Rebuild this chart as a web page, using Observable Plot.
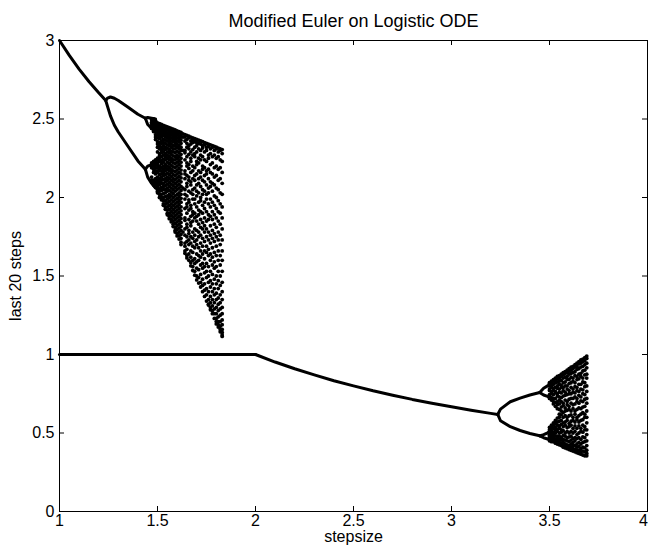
<!DOCTYPE html>
<html>
<head>
<meta charset="utf-8">
<script src="https://cdn.jsdelivr.net/npm/d3@7"></script>
<script src="https://cdn.jsdelivr.net/npm/@observablehq/plot@0.6"></script>
<style>
  html, body { margin: 0; padding: 0; background: #fff; }
  #chart svg { display: block; }
</style>
</head>
<body>
<div id="chart"></div>
<script>
// ---- tick labels ----
const xTicks = [1, 1.5, 2, 2.5, 3, 3.5, 4];
const yTicks = [0, 0.5, 1, 1.5, 2, 2.5, 3];

// ---- stable branches ----
const upperFixedH = [1, 1.05, 1.1, 1.15, 1.2, 1.236];
const upperFixedY = [3, 2.905, 2.818, 2.739, 2.667, 2.618];
const upperP2H    = [1.236, 1.245, 1.26, 1.28, 1.3, 1.35, 1.4, 1.438];
const upperP2HiY  = [2.618, 2.633, 2.64, 2.632, 2.618, 2.575, 2.530, 2.505];
const upperP2LoY  = [2.618, 2.58, 2.52, 2.46, 2.417, 2.325, 2.233, 2.18];
const upperP4H    = [1.438, 1.45, 1.47, 1.49];
const upperP4aY   = [2.505, 2.51, 2.505, 2.50];
const upperP4bY   = [2.505, 2.465, 2.44, 2.42];
const upperP4cY   = [2.18, 2.20, 2.21, 2.215];
const upperP4dY   = [2.18, 2.13, 2.09, 2.06];

const lowerFlatH  = [1, 2];
const lowerFlatY  = [1, 1];
const lowerCurveH = [2, 2.1, 2.2, 2.3, 2.4, 2.5, 2.6, 2.7, 2.8, 2.9, 3.0, 3.1, 3.2, 3.236];
const lowerCurveY = [1, 0.952, 0.909, 0.870, 0.833, 0.8, 0.769, 0.741, 0.714, 0.690, 0.667, 0.645, 0.625, 0.618];
const lowerP2H    = [3.236, 3.25, 3.3, 3.35, 3.4, 3.45];
const lowerP2HiY  = [0.618, 0.652, 0.699, 0.722, 0.742, 0.758];
const lowerP2LoY  = [0.618, 0.578, 0.540, 0.516, 0.497, 0.482];
const lowerP4H    = [3.45, 3.47, 3.49, 3.50];
const lowerP4aY   = [0.758, 0.785, 0.80, 0.81];
const lowerP4bY   = [0.758, 0.742, 0.733, 0.73];
const lowerP4cY   = [0.482, 0.49, 0.50, 0.51];
const lowerP4dY   = [0.482, 0.47, 0.462, 0.455];

// ---- chaotic region, upper (stepsize columns, last-step values) ----
const upperChaosH = [1.47,1.48,1.49,1.50,1.51,1.52,1.53,1.54,1.55,1.56,1.57,1.58,1.59,1.60,1.61,1.62,1.63,
  1.64,1.65,1.66,1.67,1.68,1.69,1.70,1.71,1.72,1.73,1.74,1.75,1.76,1.77,1.78,1.79,1.80,1.81,1.82,1.83];
const upperChaosY = [
  [2.50,2.495,2.48,2.47,2.455,2.44,2.22,2.21,2.20,2.19,2.13,2.11,2.10],
  [2.50,2.49,2.475,2.46,2.445,2.43,2.42,2.23,2.215,2.20,2.18,2.16,2.11,2.09,2.08],
  [2.49,2.485,2.47,2.455,2.44,2.42,2.40,2.385,2.37,2.24,2.225,2.21,2.19,2.17,2.15,2.12,2.10,2.08,2.065],
  [2.475,2.47,2.46,2.45,2.43,2.42,2.40,2.38,2.355,2.34,2.32,2.29,2.25,2.24,2.22,2.21,2.19,2.17,2.16,2.13,2.11,2.09,2.07,2.05,2.04,2.03],
  [2.47,2.465,2.45,2.44,2.425,2.41,2.39,2.375,2.35,2.33,2.31,2.28,2.265,2.25,2.23,2.20,2.185,2.17,2.145,2.12,2.10,2.08,2.055,2.04,2.02,2.00],
  [2.465,2.455,2.445,2.43,2.415,2.40,2.385,2.36,2.345,2.32,2.30,2.285,2.26,2.235,2.215,2.19,2.17,2.15,2.13,2.11,2.09,2.065,2.045,2.02,2.00,1.985],
  [2.46,2.45,2.44,2.42,2.41,2.395,2.37,2.35,2.33,2.31,2.29,2.27,2.245,2.225,2.20,2.18,2.16,2.14,2.115,2.09,2.07,2.05,2.025,2.00,1.98,1.96,1.95],
  [2.455,2.45,2.435,2.42,2.40,2.385,2.365,2.345,2.32,2.305,2.28,2.26,2.24,2.21,2.19,2.17,2.145,2.12,2.10,2.075,2.05,2.03,2.005,1.98,1.96,1.94,1.925],
  [2.45,2.44,2.43,2.41,2.395,2.38,2.36,2.335,2.315,2.29,2.27,2.25,2.225,2.20,2.18,2.155,2.13,2.11,2.085,2.06,2.04,2.01,1.99,1.965,1.94,1.92,1.90,1.89],
  [2.445,2.435,2.42,2.405,2.39,2.37,2.35,2.33,2.305,2.285,2.26,2.24,2.215,2.19,2.17,2.145,2.12,2.095,2.07,2.045,2.02,2.00,1.975,1.95,1.925,1.90,1.88,1.865],
  [2.44,2.43,2.415,2.40,2.38,2.36,2.34,2.32,2.295,2.275,2.25,2.23,2.205,2.18,2.16,2.135,2.11,2.085,2.06,2.035,2.01,1.985,1.96,1.935,1.91,1.885,1.86,1.845],
  [2.435,2.425,2.41,2.39,2.375,2.355,2.33,2.31,2.29,2.265,2.24,2.22,2.195,2.17,2.145,2.12,2.10,2.075,2.05,2.025,2.00,1.975,1.95,1.925,1.90,1.875,1.85,1.83,1.815],
  [2.43,2.42,2.405,2.39,2.37,2.35,2.33,2.31,2.285,2.26,2.24,2.215,2.19,2.165,2.14,2.115,2.09,2.065,2.04,2.01,1.985,1.96,1.935,1.91,1.885,1.86,1.835,1.81,1.79,1.78],
  [2.425,2.415,2.40,2.38,2.36,2.34,2.32,2.295,2.27,2.25,2.225,2.20,2.175,2.15,2.125,2.10,2.075,2.05,2.02,1.995,1.97,1.945,1.92,1.895,1.87,1.845,1.82,1.795,1.77,1.755],
  [2.42,2.41,2.39,2.375,2.355,2.33,2.31,2.285,2.26,2.235,2.21,2.185,2.16,2.135,2.11,2.085,2.06,2.03,2.005,1.98,1.955,1.93,1.905,1.88,1.855,1.83,1.805,1.78,1.755,1.735],
  [2.415,2.40,2.385,2.365,2.345,2.32,2.30,2.275,2.25,2.225,2.20,2.175,2.15,2.125,2.10,2.07,2.045,2.02,1.995,1.97,1.94,1.915,1.89,1.865,1.84,1.815,1.79,1.765,1.74,1.715,1.70],
  [2.405,2.385,2.30,2.06,1.78],
  [2.40,2.385,2.36,2.30,2.285,2.24,2.17,2.15,2.12,2.05,2.02,1.99,1.93,1.87,1.855,1.80,1.76,1.71,1.69,1.66,1.645],
  [2.395,2.37,2.345,2.32,2.26,2.22,2.20,2.14,2.09,2.07,2.01,1.96,1.94,1.90,1.83,1.81,1.75,1.72,1.67,1.63,1.615],
  [2.39,2.38,2.33,2.31,2.275,2.21,2.185,2.13,2.11,2.04,1.985,1.97,1.92,1.86,1.79,1.77,1.73,1.70,1.64,1.60],
  [2.385,2.36,2.34,2.29,2.25,2.23,2.16,2.10,2.08,2.03,1.95,1.93,1.88,1.84,1.82,1.75,1.71,1.66,1.62,1.585,1.565],
  [2.38,2.37,2.35,2.305,2.27,2.20,2.17,2.12,2.05,2.02,1.99,1.91,1.89,1.85,1.78,1.74,1.69,1.65,1.60,1.56,1.535],
  [2.375,2.355,2.32,2.28,2.26,2.19,2.14,2.11,2.06,1.99,1.96,1.90,1.87,1.80,1.76,1.72,1.68,1.61,1.58,1.53,1.505],
  [2.37,2.35,2.33,2.29,2.23,2.21,2.15,2.08,2.04,2.01,1.94,1.88,1.85,1.79,1.73,1.70,1.64,1.59,1.55,1.50,1.475],
  [2.365,2.345,2.31,2.25,2.22,2.17,2.12,2.09,2.03,1.97,1.92,1.89,1.83,1.78,1.75,1.68,1.63,1.60,1.54,1.49,1.455],
  [2.36,2.34,2.30,2.27,2.24,2.16,2.13,2.07,2.00,1.98,1.91,1.86,1.81,1.76,1.71,1.66,1.62,1.57,1.51,1.46,1.43],
  [2.355,2.33,2.315,2.26,2.20,2.18,2.11,2.05,2.02,1.95,1.90,1.84,1.80,1.74,1.69,1.64,1.58,1.55,1.48,1.44,1.40],
  [2.35,2.335,2.29,2.24,2.19,2.14,2.10,2.04,1.97,1.93,1.87,1.82,1.78,1.72,1.66,1.61,1.56,1.52,1.45,1.41,1.37],
  [2.345,2.32,2.30,2.23,2.17,2.15,2.08,2.02,1.99,1.91,1.85,1.80,1.75,1.69,1.65,1.58,1.53,1.49,1.42,1.38,1.34],
  [2.34,2.325,2.27,2.25,2.18,2.12,2.06,2.03,1.96,1.89,1.86,1.78,1.73,1.67,1.63,1.56,1.50,1.46,1.40,1.35,1.32,1.315],
  [2.335,2.31,2.28,2.21,2.16,2.10,2.07,1.99,1.94,1.88,1.82,1.76,1.71,1.64,1.60,1.53,1.47,1.43,1.37,1.33,1.30,1.285],
  [2.33,2.32,2.26,2.22,2.15,2.09,2.04,1.97,1.91,1.86,1.79,1.74,1.68,1.62,1.57,1.51,1.45,1.40,1.35,1.31,1.28,1.26],
  [2.325,2.30,2.27,2.19,2.13,2.08,2.01,1.95,1.89,1.83,1.77,1.72,1.65,1.59,1.55,1.48,1.42,1.38,1.33,1.29,1.26,1.23],
  [2.32,2.31,2.25,2.20,2.14,2.06,2.00,1.93,1.87,1.81,1.75,1.69,1.63,1.56,1.50,1.45,1.39,1.35,1.30,1.26,1.23,1.21,1.195],
  [2.315,2.29,2.26,2.18,2.11,2.05,1.98,1.91,1.85,1.78,1.73,1.66,1.60,1.53,1.47,1.42,1.36,1.32,1.28,1.24,1.21,1.19,1.175],
  [2.31,2.30,2.24,2.19,2.12,2.03,1.96,1.90,1.83,1.76,1.70,1.63,1.57,1.50,1.44,1.38,1.33,1.29,1.25,1.21,1.18,1.16,1.145],
  [2.305,2.28,2.23,2.16,2.09,2.02,1.94,1.87,1.80,1.73,1.66,1.60,1.53,1.46,1.40,1.35,1.30,1.26,1.22,1.19,1.16,1.14,1.125,1.115]
];

// ---- chaotic region, lower ----
const lowerChaosH = [3.50,3.51,3.52,3.53,3.54,3.55,3.56,3.57,3.58,3.59,3.60,3.61,3.62,3.63,3.64,3.65,3.66,3.67,3.68,3.69];
const lowerChaosY = [
  [0.82,0.815,0.80,0.78,0.77,0.745,0.73,0.72,0.535,0.52,0.51,0.495,0.485,0.475,0.47,0.46,0.45],
  [0.83,0.82,0.805,0.79,0.765,0.75,0.725,0.71,0.55,0.535,0.515,0.50,0.485,0.47,0.455,0.445],
  [0.84,0.83,0.81,0.785,0.77,0.745,0.72,0.70,0.685,0.565,0.55,0.53,0.505,0.49,0.475,0.46,0.445],
  [0.85,0.835,0.82,0.79,0.765,0.755,0.72,0.695,0.67,0.58,0.56,0.535,0.52,0.50,0.48,0.46,0.445,0.435],
  [0.86,0.845,0.825,0.80,0.785,0.75,0.735,0.70,0.68,0.655,0.595,0.57,0.55,0.525,0.51,0.48,0.465,0.45,0.43],
  [0.865,0.85,0.83,0.81,0.78,0.76,0.73,0.71,0.685,0.65,0.62,0.60,0.575,0.545,0.53,0.50,0.48,0.46,0.44,0.425],
  [0.875,0.86,0.835,0.805,0.79,0.755,0.725,0.70,0.665,0.64,0.615,0.58,0.555,0.52,0.505,0.47,0.455,0.435,0.42],
  [0.885,0.87,0.85,0.82,0.79,0.77,0.735,0.69,0.675,0.63,0.60,0.565,0.54,0.515,0.485,0.46,0.44,0.425,0.41],
  [0.89,0.88,0.855,0.825,0.80,0.76,0.74,0.71,0.66,0.64,0.61,0.57,0.55,0.50,0.48,0.455,0.43,0.415,0.405],
  [0.90,0.885,0.86,0.84,0.80,0.78,0.745,0.70,0.68,0.645,0.60,0.58,0.535,0.51,0.47,0.45,0.425,0.41,0.40],
  [0.91,0.895,0.875,0.84,0.815,0.77,0.75,0.715,0.67,0.65,0.61,0.56,0.54,0.50,0.475,0.445,0.42,0.405,0.395],
  [0.92,0.90,0.88,0.855,0.82,0.79,0.75,0.72,0.69,0.64,0.615,0.575,0.55,0.51,0.48,0.455,0.43,0.41,0.39],
  [0.925,0.91,0.885,0.85,0.83,0.78,0.76,0.72,0.68,0.655,0.60,0.58,0.53,0.50,0.465,0.44,0.42,0.40,0.385],
  [0.935,0.92,0.89,0.865,0.82,0.795,0.755,0.73,0.685,0.64,0.62,0.57,0.545,0.51,0.47,0.45,0.42,0.395,0.38],
  [0.945,0.925,0.905,0.86,0.84,0.79,0.77,0.72,0.70,0.65,0.60,0.585,0.53,0.49,0.465,0.43,0.41,0.39,0.375],
  [0.955,0.94,0.91,0.875,0.845,0.81,0.765,0.74,0.69,0.66,0.61,0.57,0.545,0.50,0.47,0.44,0.415,0.39,0.37],
  [0.965,0.945,0.92,0.88,0.86,0.81,0.78,0.73,0.705,0.655,0.62,0.58,0.53,0.51,0.46,0.43,0.40,0.38,0.365],
  [0.97,0.955,0.925,0.895,0.85,0.825,0.775,0.75,0.70,0.665,0.63,0.585,0.55,0.505,0.475,0.44,0.41,0.385,0.36],
  [0.98,0.96,0.935,0.90,0.87,0.82,0.795,0.745,0.715,0.67,0.62,0.60,0.54,0.52,0.47,0.445,0.405,0.38,0.355],
  [0.99,0.975,0.945,0.915,0.875,0.85,0.80,0.765,0.72,0.69,0.64,0.60,0.565,0.52,0.49,0.45,0.42,0.39,0.37,0.355]
];

// ---- build tables ----
const branches = [];
function addBranch(id, hs, ys) { hs.forEach((h, i) => branches.push({id, h, y: ys[i]})); }
addBranch("uf", upperFixedH, upperFixedY);
addBranch("u2a", upperP2H, upperP2HiY);
addBranch("u2b", upperP2H, upperP2LoY);
addBranch("u4a", upperP4H, upperP4aY);
addBranch("u4b", upperP4H, upperP4bY);
addBranch("u4c", upperP4H, upperP4cY);
addBranch("u4d", upperP4H, upperP4dY);
addBranch("lf", lowerFlatH, lowerFlatY);
addBranch("lc", lowerCurveH, lowerCurveY);
addBranch("l2a", lowerP2H, lowerP2HiY);
addBranch("l2b", lowerP2H, lowerP2LoY);
addBranch("l4a", lowerP4H, lowerP4aY);
addBranch("l4b", lowerP4H, lowerP4bY);
addBranch("l4c", lowerP4H, lowerP4cY);
addBranch("l4d", lowerP4H, lowerP4dY);

const pts = [];
upperChaosH.forEach((h, i) => upperChaosY[i].forEach(y => pts.push({h, y})));
lowerChaosH.forEach((h, i) => lowerChaosY[i].forEach(y => pts.push({h, y})));

// ---- layout ----
const W = 648, H = 549;
const mL = 59, mR = 1, mT = 40, mB = 38;
const tickPx = 5;
const tx = 3 * tickPx / (W - mL - mR);
const ty = 3 * tickPx / (H - mT - mB);
const font = "'Liberation Sans', Arial, Helvetica, sans-serif";

const chart = Plot.plot({
  width: W, height: H,
  marginLeft: mL, marginRight: mR, marginTop: mT, marginBottom: mB,
  style: {fontFamily: font, fontSize: "16px", color: "black", background: "white", overflow: "visible"},
  x: {domain: [1, 4], ticks: xTicks.slice(0, -1), tickSize: 0, tickPadding: 3, tickFormat: d => String(d), label: null},
  y: {domain: [0, 3], ticks: yTicks, tickSize: 0, tickPadding: 5, tickFormat: d => String(d), label: null},
  marks: [
    Plot.ruleX(xTicks.slice(1, -1), {x: d => d, y1: 0, y2: ty, stroke: "black"}),
    Plot.ruleX(xTicks.slice(1, -1), {x: d => d, y1: 3 - ty, y2: 3, stroke: "black"}),
    Plot.ruleY(yTicks.slice(1, -1), {y: d => d, x1: 1, x2: 1 + tx, stroke: "black"}),
    Plot.ruleY(yTicks.slice(1, -1), {y: d => d, x1: 4 - tx, x2: 4, stroke: "black"}),
    Plot.line(branches, {x: "h", y: "y", z: "id", stroke: "black", strokeWidth: 3, strokeLinejoin: "round"}),
    Plot.dot(pts, {x: "h", y: "y", r: 1.9, fill: "black", stroke: "none"}),
    Plot.frame({stroke: "black", strokeWidth: 1}),
    Plot.text(xTicks.slice(-1), {x: d => d, text: d => String(d), frameAnchor: "bottom", lineAnchor: "top", dy: 3, dx: -4, fontSize: 16}),
    Plot.text(["Modified Euler on Logistic ODE"], {frameAnchor: "top", dy: -26, fontSize: 18}),
    Plot.text(["stepsize"], {frameAnchor: "bottom", dy: 30, fontSize: 16}),
    Plot.text(["last 20 steps"], {frameAnchor: "left", textAnchor: "middle", dx: -44, rotate: -90, fontSize: 16})
  ]
});
document.getElementById("chart").appendChild(chart);
</script>
</body>
</html>
